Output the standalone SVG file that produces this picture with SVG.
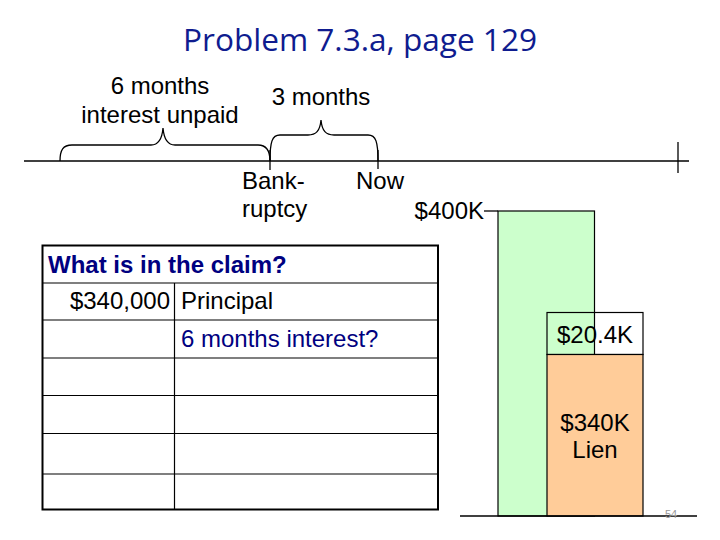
<svg xmlns="http://www.w3.org/2000/svg" width="720" height="540" viewBox="0 0 720 540">
<style>
.t{font-family:"Liberation Sans",Arial,sans-serif;font-size:24px;fill:#000}
.navy{fill:#000080}
.ln{stroke:#000;stroke-width:1.3;fill:none}
.cell{stroke:#000;stroke-width:1.2;fill:none}
</style>
<rect width="720" height="540" fill="#fff"/>
<text id="title" x="183" y="51" textLength="354" lengthAdjust="spacingAndGlyphs" style="font-family:'Open Sans','Noto Sans',sans-serif;font-size:31px;fill:#0F1C8F">Problem 7.3.a, page 129</text>

<g id="timeline">
  <line class="ln" x1="24" y1="161" x2="689" y2="161"/>
  <line class="ln" x1="678" y1="142" x2="678" y2="173"/>
  <line class="ln" x1="270" y1="150" x2="270" y2="170"/>
  <line class="ln" x1="378" y1="150" x2="378" y2="169"/>
</g>
<g id="connectors">
  <path class="ln" d="M60,161 C60,150 63,145 72,145 L151,145 C158,145 162,140 163,128 C164,140 168,145 175,145 L258,145 C266,145 270,150 270,161"/>
  <path class="ln" d="M270,161 C270,142 272,135 280,135 L308,135 C316,135 320,131 321,120 C322,131 326,135 334,135 L368,135 C376,135 378,142 378,161"/>
  <line class="ln" x1="484" y1="211" x2="498" y2="211"/>
</g>
<g id="label-6months">
  <text class="t" x="160" y="94" text-anchor="middle">6 months</text>
  <text class="t" x="160" y="123" text-anchor="middle">interest unpaid</text>
</g>
<g id="label-3months"><text class="t" x="321" y="105" text-anchor="middle">3 months</text></g>
<g id="label-bankruptcy">
  <text class="t" x="242" y="189">Bank-</text>
  <text class="t" x="242" y="217">ruptcy</text>
</g>
<g id="label-now"><text class="t" x="356" y="189">Now</text></g>
<g id="label-400k"><text class="t" x="484" y="219" text-anchor="end">$400K</text></g>

<g id="claim-table">
  <rect x="42.5" y="245.5" width="395.5" height="264" fill="#fff" stroke="#000" stroke-width="2"/>
  <line class="cell" x1="42.5" y1="283" x2="438" y2="283"/>
  <line class="cell" x1="42.5" y1="320" x2="438" y2="320"/>
  <line class="cell" x1="42.5" y1="358" x2="438" y2="358"/>
  <line class="cell" x1="42.5" y1="395.5" x2="438" y2="395.5"/>
  <line class="cell" x1="42.5" y1="433.5" x2="438" y2="433.5"/>
  <line class="cell" x1="42.5" y1="474" x2="438" y2="474"/>
  <line class="cell" x1="174.5" y1="283" x2="174.5" y2="509.5"/>
  <text class="t navy" x="48" y="273" font-weight="bold">What is in the claim?</text>
  <text class="t" x="170" y="309" text-anchor="end">$340,000</text>
  <text class="t" x="181" y="309">Principal</text>
  <text class="t navy" x="181" y="347">6 months interest?</text>
</g>

<g id="bar-chart">
  <rect x="547" y="312.5" width="96" height="42" fill="#fff"/>
  <rect id="bar-400k" x="498" y="211" width="96.5" height="305" fill="#CCFFCC" stroke="#000" stroke-width="1.2"/>
  <rect id="box-20k" x="547" y="312.5" width="96" height="42" fill="none" stroke="#000" stroke-width="1.2"/>
  <rect id="bar-340k" x="547" y="354.5" width="96" height="161.5" fill="#FFCC99" stroke="#000" stroke-width="1.2"/>
  <line class="ln" x1="460" y1="516" x2="697" y2="516"/>
  <text class="t" x="595" y="343" text-anchor="middle">$20.4K</text>
  <text class="t" x="595" y="431" text-anchor="middle">$340K</text>
  <text class="t" x="595" y="458" text-anchor="middle">Lien</text>
</g>
<text id="page-num" x="671" y="518" text-anchor="middle" style="font-family:'Liberation Sans',Arial,sans-serif;font-size:11px;fill:#999">54</text>
</svg>
